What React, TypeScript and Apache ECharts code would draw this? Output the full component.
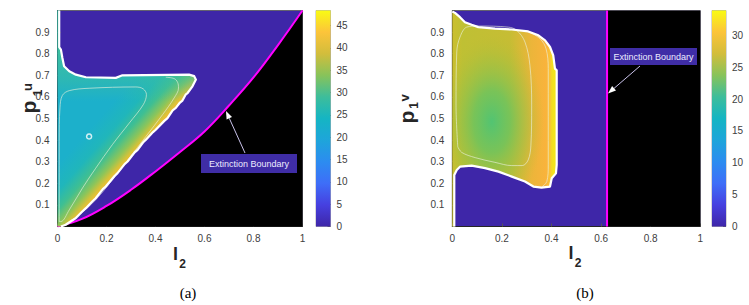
import React, { useEffect, useRef } from 'react';
import * as echarts from 'echarts';

// ---------- data ----------
const xTicks = [0, 0.2, 0.4, 0.6, 0.8, 1];
const yTicks = [0.1, 0.2, 0.3, 0.4, 0.5, 0.6, 0.7, 0.8, 0.9];
const cbTicksA = [0, 5, 10, 15, 20, 25, 30, 35, 40, 45];
const cbMaxA = 48.4;
const cbTicksB = [0, 5, 10, 15, 20, 25, 30];
const cbMaxB = 33.9;

// panel (a): extinction boundary p = f(l2)
const extinctionA = [
  [0, 0], [0.1, 0.035], [0.2, 0.095], [0.3, 0.17], [0.4, 0.255], [0.5, 0.345],
  [0.6, 0.44], [0.7, 0.56], [0.8, 0.69], [0.9, 0.84], [1, 1],
];
// panel (a): boundary of the coexistence region (white edge)
const boundaryA = [
  [0.007, 1], [0.007, 0.83], [0.014, 0.819], [0.02, 0.78], [0.027, 0.742], [0.048, 0.719],
  [0.075, 0.703], [0.116, 0.691], [0.238, 0.688], [0.265, 0.7], [0.537, 0.703], [0.558, 0.696],
  [0.565, 0.68], [0.551, 0.649], [0.531, 0.618], [0.524, 0.612], [0.51, 0.583], [0.5, 0.574],
  [0.483, 0.549], [0.47, 0.538], [0.449, 0.502], [0.436, 0.489], [0.401, 0.448], [0.39, 0.437],
  [0.361, 0.402], [0.349, 0.389], [0.327, 0.355], [0.315, 0.343], [0.286, 0.301], [0.274, 0.289],
  [0.245, 0.247], [0.233, 0.234], [0.197, 0.185], [0.185, 0.173], [0.156, 0.131], [0.144, 0.118],
  [0.116, 0.085], [0.1, 0.068], [0.075, 0.039], [0.06, 0.028], [0.034, 0.008], [0.014, 0],
];
const regionA = [[0, 1], ...boundaryA, [0, 0]];
const contourA1 = [
  [0.007, 0.023], [0.007, 0.394], [0.01, 0.549], [0.02, 0.607], [0.048, 0.629], [0.129, 0.64],
  [0.32, 0.646], [0.35, 0.637], [0.363, 0.611], [0.35, 0.564], [0.293, 0.479], [0.224, 0.379],
  [0.156, 0.27], [0.102, 0.178], [0.048, 0.077], [0.014, 0.023], [0.007, 0.023],
];
const contourA2 = [
  [0.442, 0.691], [0.476, 0.685], [0.49, 0.668], [0.494, 0.641], [0.476, 0.595], [0.429, 0.518],
  [0.361, 0.417], [0.293, 0.317], [0.224, 0.216], [0.156, 0.124], [0.088, 0.054], [0.027, 0.008],
];
const loopA = [[0.129, 0.417]];

// panel (b)
const extinctionB = [[0.624, 0], [0.624, 1]];
const extinctAreaB = [[0.624, 1], [1, 1]];
const boundaryB = [
  [0.008, 0], [0.008, 0.238], [0.018, 0.262], [0.031, 0.277], [0.078, 0.282], [0.132, 0.27],
  [0.186, 0.254], [0.24, 0.231], [0.293, 0.208], [0.327, 0.185], [0.36, 0.18], [0.394, 0.185],
  [0.401, 0.223], [0.418, 0.246], [0.421, 0.285], [0.421, 0.723], [0.414, 0.731], [0.407, 0.792],
  [0.394, 0.831], [0.374, 0.862], [0.347, 0.885], [0.306, 0.903], [0.24, 0.912], [0.172, 0.916],
  [0.105, 0.923], [0.078, 0.934], [0.051, 0.946], [0.031, 0.969], [0.011, 0.989], [0, 0.995],
];
const regionB = [...boundaryB, [0, 0]];
const bodyB = [...boundaryB.slice(1), [0, 0.24]];
const contourB1 = [
  [0.022, 0.369], [0.015, 0.562], [0.018, 0.808], [0.031, 0.877], [0.058, 0.923], [0.105, 0.928],
  [0.226, 0.923], [0.26, 0.908], [0.293, 0.854], [0.313, 0.746], [0.32, 0.562], [0.317, 0.377],
  [0.306, 0.308], [0.282, 0.282], [0.24, 0.282], [0.172, 0.297], [0.092, 0.319], [0.038, 0.343],
  [0.022, 0.369],
];
const contourB2 = [
  [0.306, 0.903], [0.354, 0.869], [0.378, 0.823], [0.387, 0.731], [0.387, 0.285], [0.381, 0.208],
  [0.363, 0.185],
];

// ---------- styling ----------
const PURPLE = '#3e26a8';
const PARULA = [
  [0, '#3e26a8'], [0.1, '#4640e0'], [0.2, '#3e6ef8'], [0.3, '#2c8cf0'], [0.4, '#1ea5da'],
  [0.5, '#15b5c3'], [0.6, '#3dbd9b'], [0.7, '#88c35a'], [0.8, '#d2bd3c'], [0.9, '#fcc43a'],
  [1, '#f9fb14'],
];
const FONT = '"Liberation Sans", Arial, Helvetica, sans-serif';
const SERIF = '"Liberation Serif", "Times New Roman", serif';
const LABEL_COLOR = '#404040';

const gridsPos = [
  { left: 57.5, top: 10.5, width: 245, height: 216 },
  { left: 316, top: 10.5, width: 14.5, height: 216 },
  { left: 452.3, top: 10.5, width: 248, height: 216 },
  { left: 712, top: 10.5, width: 14, height: 216 },
];

function mainXAxis(gridIndex: number) {
  return {
    type: 'value', gridIndex, min: 0, max: 1, interval: 0.2,
    axisLine: { show: true, lineStyle: { color: '#262626', width: 1 } },
    axisTick: { show: true, inside: true, length: 3, lineStyle: { color: '#555' } },
    axisLabel: {
      margin: 7, fontSize: 10, fontFamily: FONT, color: LABEL_COLOR,
      formatter: (v: number) => {
        const r = Math.round(v * 10) / 10;
        return xTicks.includes(r) ? String(r) : '';
      },
    },
    splitLine: { show: false },
  };
}
function mainYAxis(gridIndex: number) {
  return {
    type: 'value', gridIndex, min: 0, max: 1, interval: 0.1,
    axisLine: { show: true, lineStyle: { color: '#262626', width: 1 } },
    axisTick: { show: true, inside: true, length: 3, lineStyle: { color: '#555' } },
    axisLabel: {
      margin: 8, fontSize: 10, fontFamily: FONT, color: LABEL_COLOR,
      formatter: (v: number) => {
        const r = Math.round(v * 10) / 10;
        return yTicks.includes(r) ? r.toFixed(1) : '';
      },
    },
    splitLine: { show: false },
  };
}
function cbYAxis(gridIndex: number, max: number, ticks: number[]) {
  return {
    type: 'value', gridIndex, min: 0, max, interval: 5, position: 'right',
    axisLine: { show: false },
    axisTick: { show: true, inside: true, length: 3, lineStyle: { color: '#666' } },
    axisLabel: {
      margin: 6, fontSize: 10, fontFamily: FONT, color: LABEL_COLOR, showMaxLabel: false,
      formatter: (v: number) => (ticks.includes(v) ? String(v) : ''),
    },
    splitLine: { show: false },
  };
}

function parulaGradient() {
  return new echarts.graphic.LinearGradient(0, 1, 0, 0,
    PARULA.map(([o, c]) => ({ offset: o as number, color: c as string })));
}

function contourSeries(data: number[][], xi: number, yi: number) {
  return {
    type: 'line', xAxisIndex: xi, yAxisIndex: yi, data, smooth: 0.35, symbol: 'none',
    lineStyle: { color: 'rgba(235,240,220,0.7)', width: 0.9 }, silent: true, z: 5,
  };
}
function edgeSeries(data: number[][], xi: number, yi: number) {
  return {
    type: 'line', xAxisIndex: xi, yAxisIndex: yi, data, smooth: false, symbol: 'none',
    lineStyle: { color: '#ffffff', width: 2.2, join: 'round' }, silent: true, z: 6,
  };
}

function buildOption() {
  const regionASeries = {
    type: 'custom', xAxisIndex: 0, yAxisIndex: 0, data: regionA, silent: true, z: 4,
    renderItem: (params: any, api: any) => {
      if (params.dataIndex !== 0) return null;
      const pts = regionA.map((p) => api.coord(p));
      const p0 = api.coord([0.014, 0]);
      const p1 = api.coord([0.558, 0.696]);
      const dx = p1[0] - p0[0];
      const dy = p1[1] - p0[1];
      const len = Math.hypot(dx, dy);
      const nx = -dy / len;
      const ny = dx / len;
      const e = api.coord([0.286, 0.301]);
      const L = 50;
      const fill = new echarts.graphic.LinearGradient(
        e[0] - nx * L, e[1] - ny * L, e[0], e[1],
        [
          { offset: 0, color: '#1cb0cb' },
          { offset: 0.35, color: '#20b6bb' },
          { offset: 0.6, color: '#3fbf92' },
          { offset: 0.8, color: '#8cc55a' },
          { offset: 0.92, color: '#d2c23a' },
          { offset: 1, color: '#f2bf32' },
        ], true);
      const lo = api.coord([0, 0.58]);
      const hi = api.coord([0, 0.84]);
      const topTint = new echarts.graphic.LinearGradient(0, lo[1], 0, hi[1], [
        { offset: 0, color: 'rgba(60,190,160,0)' },
        { offset: 0.4, color: 'rgba(60,190,160,0.55)' },
        { offset: 1, color: 'rgba(70,195,150,0.9)' },
      ], true);
      return {
        type: 'group',
        children: [
          { type: 'polygon', shape: { points: pts }, style: { fill } },
          { type: 'polygon', shape: { points: pts }, style: { fill: topTint } },
        ],
      };
    },
  };

  const regionBSeries = {
    type: 'custom', xAxisIndex: 2, yAxisIndex: 2, data: regionB, silent: true, z: 4,
    renderItem: (params: any, api: any) => {
      if (params.dataIndex !== 0) return null;
      const pts = regionB.map((p) => api.coord(p));
      const body = bodyB.map((p) => api.coord(p));
      const a = api.coord([0, 0.5]);
      const b = api.coord([0.421, 0.5]);
      const base = new echarts.graphic.LinearGradient(a[0], 0, b[0], 0, [
        { offset: 0, color: '#cbbf2e' },
        { offset: 0.1, color: '#bfc034' },
        { offset: 0.55, color: '#c6bd34' },
        { offset: 0.76, color: '#ecb53a' },
        { offset: 0.9, color: '#f9b33c' },
        { offset: 0.935, color: '#fbc236' },
        { offset: 0.955, color: '#f2de20' },
        { offset: 1, color: '#f6e81b' },
      ], true);
      const glow = new echarts.graphic.RadialGradient(0.378, 0.626, 0.5, [
        { offset: 0, color: 'rgba(82,196,114,1)' },
        { offset: 0.35, color: 'rgba(108,196,94,0.85)' },
        { offset: 0.7, color: 'rgba(150,194,70,0.45)' },
        { offset: 1, color: 'rgba(185,190,52,0)' },
      ]);
      return {
        type: 'group',
        children: [
          { type: 'polygon', shape: { points: pts }, style: { fill: base } },
          { type: 'polygon', shape: { points: body }, style: { fill: glow } },
        ],
      };
    },
  };

  const arrowA = { tail: [245, 153], base: [229.3, 118.3], h1: [232.0, 117.1], h2: [226.6, 119.5], tip: [226, 111] };
  const arrowB = { tail: [640, 66], base: [614.1, 88.3], h1: [616.0, 90.6], h2: [612.1, 86.0], tip: [608, 93.5] };

  const labelBox = (x: number, y: number, w: number, h: number, arrow: any) => [
    { type: 'line', shape: { x1: arrow.tail[0], y1: arrow.tail[1], x2: arrow.base[0], y2: arrow.base[1] },
      style: { stroke: '#c9c2ea', lineWidth: 1 }, z: 100 },
    { type: 'polygon', shape: { points: [arrow.tip, arrow.h1, arrow.h2] }, style: { fill: '#ffffff' }, z: 100 },
    { type: 'rect', shape: { x, y, width: w, height: h }, style: { fill: '#3f2da6' }, z: 100 },
    { type: 'text', x: x + w / 2, y: y + h / 2, z: 101,
      style: { text: 'Extinction Boundary', fill: '#ececff', fontSize: 9, fontFamily: FONT,
        align: 'center', verticalAlign: 'middle', textAlign: 'center', textVerticalAlign: 'middle' } },
  ];

  const t = (text: string, x: number, y: number, size: number, opts: any = {}) => ({
    type: 'text', x, y, rotation: opts.rotation || 0, z: 100,
    style: {
      text, fill: opts.fill || '#262626', fontSize: size, fontWeight: opts.weight || 'bold',
      fontFamily: opts.family || FONT, align: 'center', verticalAlign: 'middle',
      textAlign: 'center', textVerticalAlign: 'middle',
    },
  });
  const R = Math.PI / 2;

  return {
    animation: false,
    grid: gridsPos.map((g, i) => ({
      ...g, show: true, borderColor: i % 2 === 0 ? '#555' : '#999', borderWidth: 0.8,
      backgroundColor: i % 2 === 0 ? PURPLE : 'transparent', containLabel: false,
    })),
    xAxis: [
      mainXAxis(0),
      { type: 'category', gridIndex: 1, data: ['c'], show: false },
      mainXAxis(2),
      { type: 'category', gridIndex: 3, data: ['c'], show: false },
    ],
    yAxis: [
      mainYAxis(0),
      cbYAxis(1, cbMaxA, cbTicksA),
      mainYAxis(2),
      cbYAxis(3, cbMaxB, cbTicksB),
    ],
    series: [
      // panel (a)
      {
        type: 'line', xAxisIndex: 0, yAxisIndex: 0, data: extinctionA, smooth: 0.4, symbol: 'none',
        lineStyle: { color: '#ff00ff', width: 2 }, areaStyle: { color: '#000000', opacity: 1 },
        silent: true, z: 3,
      },
      regionASeries,
      contourSeries(contourA1, 0, 0),
      contourSeries(contourA2, 0, 0),
      edgeSeries(boundaryA, 0, 0),
      {
        type: 'scatter', xAxisIndex: 0, yAxisIndex: 0, data: loopA, symbol: 'circle', symbolSize: 5,
        itemStyle: { color: '#20b0c8', borderColor: '#ffffff', borderWidth: 1.5 }, silent: true, z: 7,
      },
      // colorbar (a)
      {
        type: 'bar', xAxisIndex: 1, yAxisIndex: 1, data: [cbMaxA], barWidth: '100%',
        itemStyle: { color: parulaGradient() }, silent: true,
      },
      // panel (b)
      {
        type: 'line', xAxisIndex: 2, yAxisIndex: 2, data: extinctAreaB, symbol: 'none',
        lineStyle: { width: 0 }, areaStyle: { color: '#000000', opacity: 1 }, silent: true, z: 3,
      },
      {
        type: 'line', xAxisIndex: 2, yAxisIndex: 2, data: extinctionB, symbol: 'none',
        lineStyle: { color: '#ff00ff', width: 2 }, silent: true, z: 6,
      },
      regionBSeries,
      contourSeries(contourB1, 2, 2),
      contourSeries(contourB2, 2, 2),
      edgeSeries(boundaryB, 2, 2),
      // colorbar (b)
      {
        type: 'bar', xAxisIndex: 3, yAxisIndex: 3, data: [cbMaxB], barWidth: '100%',
        itemStyle: { color: parulaGradient() }, silent: true,
      },
    ],
    graphic: [
      ...labelBox(201, 154, 96, 19, arrowA),
      ...labelBox(610, 48, 87, 17, arrowB),
      // y labels (a)
      t('p', 28, 107, 21, { rotation: R }),
      t('u', 27.5, 87, 13, { rotation: R }),
      t('1', 37.5, 93, 12, { rotation: R }),
      // y labels (b)
      t('p', 406.5, 117, 21, { rotation: R }),
      t('v', 404.5, 98, 13, { rotation: R }),
      t('1', 414, 105.5, 12, { rotation: R }),
      // x labels
      t('l', 175.5, 254, 18),
      t('2', 182.5, 263.5, 12),
      t('l', 571, 253, 18),
      t('2', 578, 262.5, 12),
      // captions
      t('(a)', 188, 293, 15, { weight: 'normal', family: SERIF, fill: '#000' }),
      t('(b)', 585, 293, 15, { weight: 'normal', family: SERIF, fill: '#000' }),
    ],
  };
}

export default function App() {
  const ref = useRef<HTMLDivElement>(null);
  useEffect(() => {
    if (!ref.current) return;
    const chart = echarts.init(ref.current, undefined, { renderer: 'svg' });
    chart.setOption(buildOption() as any);
    return () => chart.dispose();
  }, []);
  return (
    <div
      ref={ref}
      style={{ position: 'fixed', left: 0, top: 0, width: 749, height: 305, background: '#ffffff' }}
    />
  );
}
